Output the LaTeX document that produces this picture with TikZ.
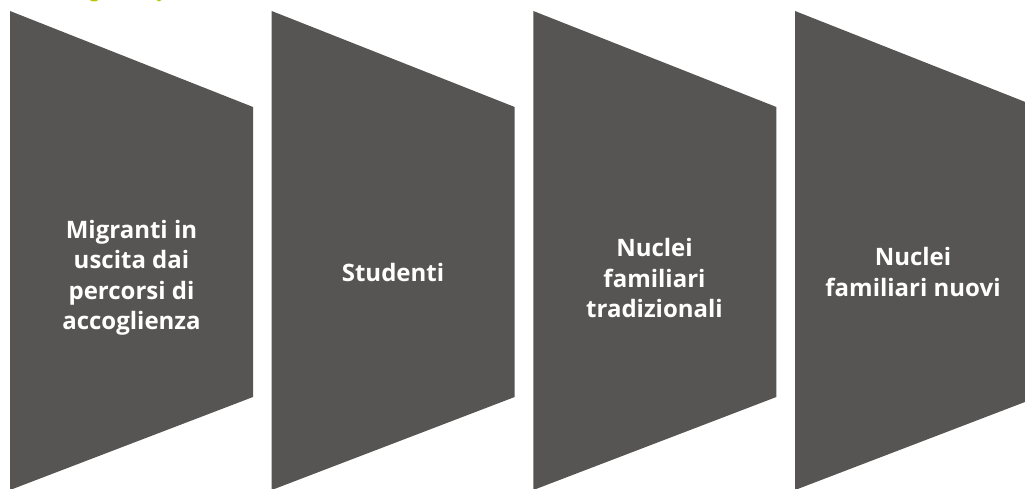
\documentclass[tikz,border=0pt]{standalone}
\usepackage{fontspec}
\setsansfont{Open Sans}
\begin{document}
\begin{tikzpicture}[x=1pt,y=-1pt]
  \definecolor{slab}{HTML}{565553}
  \definecolor{lime}{HTML}{B7C800}
  \tikzset{
    slabshape/.style={fill=slab, draw=none},
    slabtext/.style={text=white, font=\sffamily\bfseries\fontsize{24}{30.5}\selectfont,
      align=center, inner sep=0pt},
  }
  \useasboundingbox (0,0) rectangle (1025,489);
  \clip (0,0) rectangle (1025,489);

  % descender fragments of a heading above the frame
  \fill[lime] (94,-3.5) ellipse [x radius=6, y radius=5];
  \fill[lime] (159,-3.5) ellipse [x radius=3.5, y radius=5];

  % four wedge-shaped panels
  \foreach \i in {0,1,2,3} {
    \pgfmathsetmacro{\xl}{10+261.67*\i}
    \pgfmathsetmacro{\xr}{\xl+243}
    \fill[slabshape] (\xl,11) -- (\xr,107) -- (\xr,397) -- (\xl,490) -- cycle;
  }

  \node[slabtext] (t1) at (131.5,278) {Migranti in\\uscita dai\\percorsi di\\accoglienza};
  \node[slabtext] (t2) at (393,272) {Studenti};
  \node[slabtext] (t3) at (654.5,278) {Nuclei\\familiari\\tradizionali};
  \node[slabtext] (t4) at (913,272) {Nuclei\\familiari nuovi};
\end{tikzpicture}
\end{document}
